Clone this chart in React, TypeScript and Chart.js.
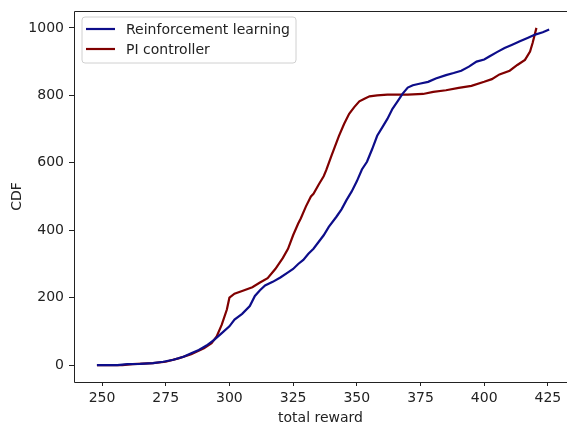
import React, { useEffect, useRef } from "react";
import { Chart, registerables } from "chart.js";

Chart.register(...registerables);

const rlX = [248, 256, 260, 265, 270, 274, 278, 282, 285, 288, 291, 294, 297, 300, 302, 305, 308, 310, 312, 314, 317, 320, 323, 325, 327, 329, 331, 333, 335, 337, 339, 342, 344, 346, 348, 350, 352, 354, 356, 358, 360, 362, 364, 366, 368, 370, 372, 375, 378, 381, 385, 388, 391, 394, 397, 400, 402, 405, 408, 411, 414, 417, 420, 423, 425.5];
const rlY = [0, 0, 3, 4, 6, 10, 16, 25, 35, 45, 58, 75, 95, 115, 135, 152, 175, 205, 222, 236, 247, 260, 275, 285, 300, 312, 330, 345, 365, 385, 410, 440, 462, 490, 515, 545, 580, 603, 640, 680, 705, 730, 760, 782, 805, 823, 830, 835, 840, 850, 860, 866, 873, 885, 900, 906, 915, 928, 940, 950, 960, 970, 980, 987, 995];

const piX = [248, 258, 262, 270, 275, 280, 285, 290, 293, 295, 297, 299, 300, 302, 305, 309, 312, 315, 318, 321, 323, 325, 327, 328, 330, 332, 333, 335, 337, 338, 340, 341, 343, 345, 347, 349, 351, 353, 355, 358, 362, 370, 376, 380, 385, 390, 395, 400, 403, 406, 410, 413, 416, 418, 419, 420.5];
const piY = [0, 0, 3, 6, 10, 20, 32, 50, 65, 85, 120, 165, 200, 212, 220, 231, 245, 258, 285, 318, 345, 385, 420, 435, 470, 500, 508, 535, 560, 578, 620, 640, 680, 715, 745, 765, 782, 790, 797, 800, 802, 802, 804, 810, 815, 822, 828, 840, 848, 862, 873, 890, 905, 930, 955, 1000];

const seriesNames = ["Reinforcement learning", "PI controller"];
const seriesColors = ["#0d0d8a", "#800000"];
const xTicks = [250, 275, 300, 325, 350, 375, 400, 425];
const yTicks = [0, 200, 400, 600, 800, 1000];

const FONT = "'DejaVu Sans', sans-serif";
const FS = 14;

const framePlugin = {
  id: "frame",
  afterDatasetsDraw(chart: any) {
    const { ctx, chartArea } = chart;
    ctx.save();
    ctx.strokeStyle = "#222";
    ctx.lineWidth = 1;
    ctx.beginPath();
    ctx.moveTo(chartArea.left + 0.5, chartArea.bottom + 0.5);
    ctx.lineTo(chartArea.left + 0.5, chartArea.top + 0.5);
    ctx.lineTo(chartArea.right, chartArea.top + 0.5);
    ctx.moveTo(chartArea.left + 0.5, chartArea.bottom + 0.5);
    ctx.lineTo(chartArea.right, chartArea.bottom + 0.5);
    ctx.stroke();

    // legend
    const bx = 82, by = 17, bw = 214, bh = 46, r = 3;
    ctx.beginPath();
    ctx.moveTo(bx + r, by);
    ctx.lineTo(bx + bw - r, by);
    ctx.arcTo(bx + bw, by, bx + bw, by + r, r);
    ctx.lineTo(bx + bw, by + bh - r);
    ctx.arcTo(bx + bw, by + bh, bx + bw - r, by + bh, r);
    ctx.lineTo(bx + r, by + bh);
    ctx.arcTo(bx, by + bh, bx, by + bh - r, r);
    ctx.lineTo(bx, by + r);
    ctx.arcTo(bx, by, bx + r, by, r);
    ctx.closePath();
    ctx.fillStyle = "rgba(255,255,255,0.8)";
    ctx.fill();
    ctx.strokeStyle = "#d0d0d0";
    ctx.stroke();
    seriesNames.forEach((name, i) => {
      const y = 29 + i * 20;
      ctx.strokeStyle = seriesColors[i];
      ctx.lineWidth = 2.2;
      ctx.beginPath();
      ctx.moveTo(86, y);
      ctx.lineTo(115, y);
      ctx.stroke();
      ctx.fillStyle = "#222";
      ctx.font = `${FS}px ${FONT}`;
      ctx.textAlign = "left";
      ctx.textBaseline = "middle";
      ctx.fillText(name, 126, y + 1);
    });
    ctx.restore();
  },
};

export default function App() {
  const ref = useRef<HTMLCanvasElement | null>(null);
  useEffect(() => {
    if (!ref.current) return;
    const chart = new Chart(ref.current, {
      type: "line",
      data: {
        datasets: [
          {
            label: seriesNames[0],
            data: rlX.map((x, i) => ({ x, y: rlY[i] })),
            borderColor: seriesColors[0],
            borderWidth: 2.2,
            pointRadius: 0,
            tension: 0,
          },
          {
            label: seriesNames[1],
            data: piX.map((x, i) => ({ x, y: piY[i] })),
            borderColor: seriesColors[1],
            borderWidth: 2.2,
            pointRadius: 0,
            tension: 0,
          },
        ],
      },
      options: {
        animation: false,
        responsive: false,
        maintainAspectRatio: false,
        layout: { padding: { top: 11, left: 0, right: 0, bottom: 0 } },
        plugins: { legend: { display: false }, tooltip: { enabled: false } },
        scales: {
          x: {
            type: "linear",
            min: 239,
            max: 432.5,
            afterBuildTicks: (s: any) => {
              s.ticks = xTicks.map((v) => ({ value: v }));
            },
            afterFit: (s: any) => {
              s.height = 42;
              s.paddingLeft = 0;
              s.paddingRight = 0;
            },
            grid: { drawOnChartArea: false, tickLength: 4, tickColor: "#222", drawTicks: true },
            border: { display: false },
            ticks: { color: "#222", font: { family: FONT, size: FS }, padding: 4, maxRotation: 0, autoSkip: false, callback: (v: any) => String(v) },
            title: { display: true, text: "total reward", color: "#222", font: { family: FONT, size: FS }, padding: { top: 0, bottom: -3 } },
          },
          y: {
            type: "linear",
            min: -50,
            max: 1050,
            afterBuildTicks: (s: any) => {
              s.ticks = yTicks.map((v) => ({ value: v }));
            },
            afterFit: (s: any) => {
              s.width = 74;
              s.paddingTop = 0;
              s.paddingBottom = 0;
            },
            grid: { drawOnChartArea: false, tickLength: 5, tickColor: "#222", drawTicks: true },
            border: { display: false },
            ticks: { color: "#222", font: { family: FONT, size: FS }, padding: 5, autoSkip: false, callback: (v: any) => String(v) },
            title: { display: true, text: "CDF", color: "#222", font: { family: FONT, size: FS }, padding: { top: 9, bottom: 0 } },
          },
        },
      },
      plugins: [framePlugin],
    });
    return () => chart.destroy();
  }, []);
  return (
    <div style={{ position: "fixed", left: 0, top: 0, width: 567, height: 424, background: "#fff" }}>
      <canvas ref={ref} width={567} height={424} style={{ display: "block", width: 567, height: 424 }} />
    </div>
  );
}
